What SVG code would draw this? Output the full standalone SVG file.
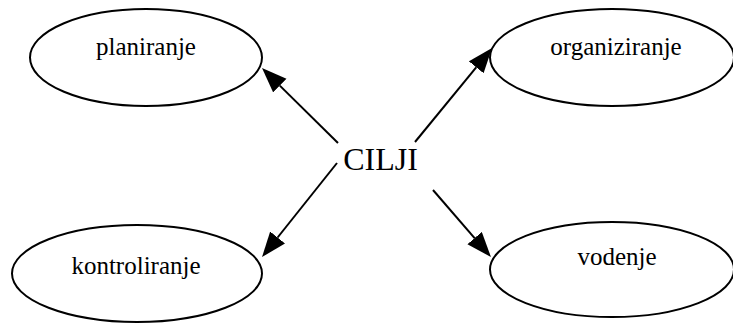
<svg xmlns="http://www.w3.org/2000/svg" width="733" height="324" viewBox="0 0 733 324">
<style>
.node ellipse{fill:#fff;stroke:#000;stroke-width:2}
.edge{stroke:#000;stroke-width:2;fill:none;marker-end:url(#ah)}
</style>
<defs>
<marker id="ah" markerUnits="userSpaceOnUse" markerWidth="26" markerHeight="20" refX="0" refY="9.5" orient="auto">
<path d="M0,0 L25,9.5 L0,19 Z" fill="#000"/>
</marker>
</defs>
<rect width="733" height="324" fill="#fff"/>
<g id="connectors">
<line class="edge" x1="338" y1="143" x2="279.8" y2="85.6"/>
<line class="edge" x1="415" y1="142" x2="476.2" y2="67.3"/>
<line class="edge" x1="337" y1="163" x2="277.6" y2="237.5"/>
<line class="edge" x1="433" y1="190" x2="474.6" y2="238.1"/>
</g>
<g font-family="Liberation Serif, Times New Roman, serif" fill="#000" text-anchor="middle">
<g id="planiranje" class="node">
<ellipse cx="146" cy="57.5" rx="116" ry="48.5"/>
<text font-size="25" x="146" y="55">planiranje</text>
</g>
<g id="organiziranje" class="node">
<ellipse cx="612" cy="57.5" rx="122" ry="48.5"/>
<text font-size="25" x="616" y="55">organiziranje</text>
</g>
<g id="kontroliranje" class="node">
<ellipse cx="137" cy="273.5" rx="125" ry="48.5"/>
<text font-size="25" x="136" y="274">kontroliranje</text>
</g>
<g id="vodenje" class="node">
<ellipse cx="612" cy="269.5" rx="122" ry="47.5"/>
<text font-size="25" x="617" y="265">vodenje</text>
</g>
<g id="cilji">
<text font-size="32" x="380.5" y="170">CILJI</text>
</g>
</g>
</svg>
